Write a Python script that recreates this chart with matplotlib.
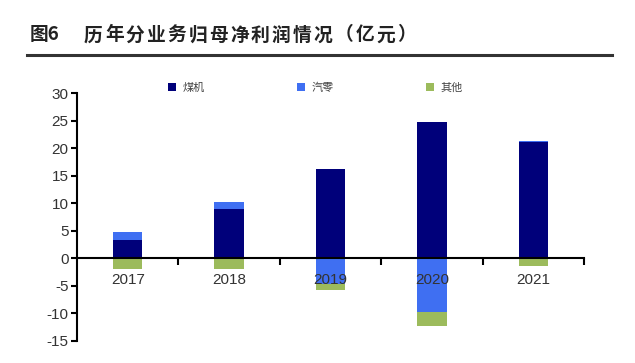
import matplotlib.pyplot as plt
import numpy as np

plt.rcParams['font.family'] = ['Noto Sans CJK SC', 'DejaVu Sans']
plt.rcParams['axes.unicode_minus'] = False

years = ['2017', '2018', '2019', '2020', '2021']
coal = [3.3, 8.9, 16.2, 24.7, 21.1]
auto = [1.4, 1.4, -4.8, -9.8, 0.3]
other = [-2.0, -1.9, -1.0, -2.5, -1.5]

c_coal = '#00007a'
c_auto = '#3f6ff2'
c_other = '#9cbb5c'

W, H = 635, 363
fig = plt.figure(figsize=(W / 100, H / 100), dpi=100)
ax = fig.add_axes([77 / W, 1 - 340.5 / H, 507 / W, 247.2 / H])

x = np.arange(len(years))
coal = np.array(coal)
auto = np.array(auto)
other = np.array(other)

# positive parts stack upward from 0, negative parts stack downward
auto_bottom = np.where(auto >= 0, coal, 0)
other_bottom = np.where(auto < 0, auto, 0)

w = 0.29
ax.bar(x, coal, w, color=c_coal, label='煤机')
ax.bar(x, auto, w, bottom=auto_bottom, color=c_auto, label='汽零')
ax.bar(x, other, w, bottom=other_bottom, color=c_other, label='其他')

ax.set_xlim(-0.5, len(years) - 0.5)
ax.set_ylim(-15, 30)
ax.set_yticks(range(-15, 31, 5))
ax.tick_params(axis='y', direction='out', length=4, width=1.5, labelsize=11,
               colors='black', pad=2)
for t in ax.get_yticklabels():
    t.set_color('#333333')
    t.set_family('Liberation Sans')

ax.spines['left'].set_linewidth(1.5)
ax.spines['bottom'].set_position(('data', 0))
ax.spines['bottom'].set_linewidth(1.5)
ax.spines['top'].set_visible(False)
ax.spines['right'].set_visible(False)

ax.set_xticks(np.arange(len(years)) + 0.5)
ax.set_xticklabels([])
ax.tick_params(axis='x', direction='out', length=5, width=1.5)

for i, yr in enumerate(years):
    ax.text(i, -4.0, yr, ha='center', va='center', fontsize=11,
            color='#333333', family='Liberation Sans')

leg = ax.legend(loc='upper center', bbox_to_anchor=(0.47, 1.085), ncol=3,
                frameon=False, fontsize=8, handlelength=0.7, handleheight=0.7,
                columnspacing=8.3, handletextpad=0.6)
for t in leg.get_texts():
    t.set_color('#444444')

# title, laid out char by char to get the wide spacing of the original
title_y = 1 - 35 / H
fig.text(30 / W, title_y, '图6', fontsize=13.5, fontweight='bold',
         color='#222222', va='center')
title = '历年分业务归母净利润情况（亿元）'
step = (418 - 84) / len(title)
for k, ch in enumerate(title):
    fig.text((84 + k * step) / W, title_y, ch, fontsize=13.5, fontweight='bold',
             color='#222222', va='center')
fig.add_artist(plt.Line2D([27 / W, 612 / W], [1 - 55 / H, 1 - 55 / H],
                          color='#333333', linewidth=2.2,
                          transform=fig.transFigure))

fig.savefig('out.png', dpi=100)
